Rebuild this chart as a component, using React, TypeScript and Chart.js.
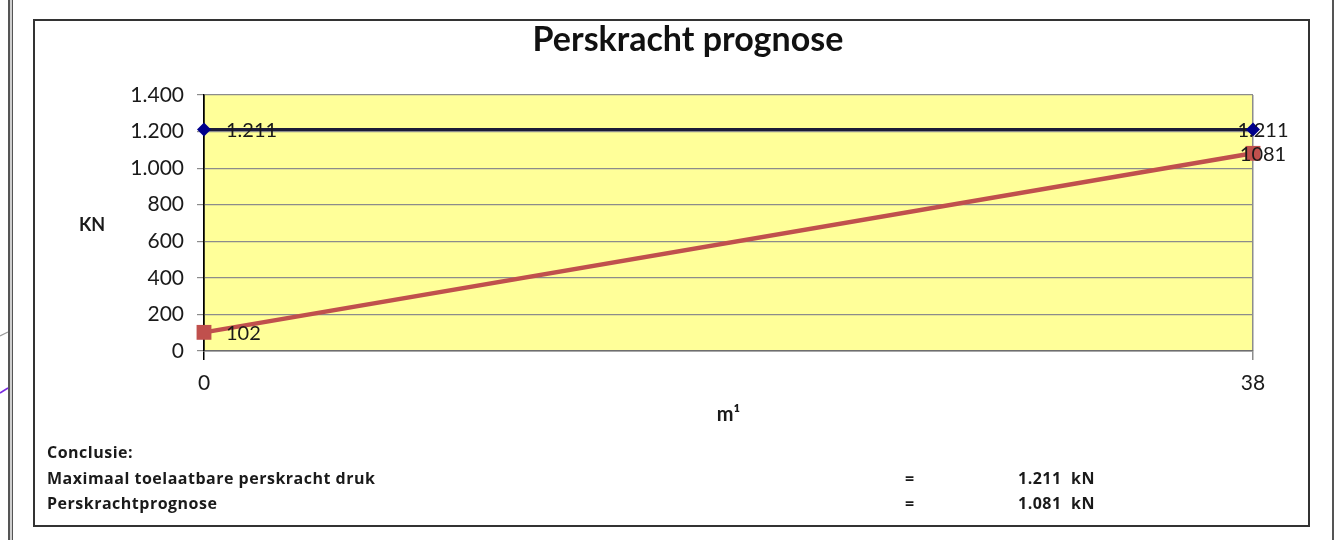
import React, { useEffect, useRef } from "react";
import { Chart, registerables } from "chart.js";

Chart.register(...registerables);

const chartTitle = "Perskracht prognose";
const xValues = [0, 38];
const xTickLabels = ["0", "38"];
const yTickValues = [0, 200, 400, 600, 800, 1000, 1200, 1400];
const yTickLabels = ["0", "200", "400", "600", "800", "1.000", "1.200", "1.400"];
const maxAllowed = [1211, 1211];
const maxAllowedLabels = ["1.211", "1.211"];
const prognosis = [102, 1081];
const prognosisLabels = ["102", "1081"];
const yAxisTitle = "KN";
const xAxisTitle = "m¹";
const conclusionHeader = "Conclusie:";
const conclusionRows = [
  { label: "Maximaal toelaatbare perskracht druk", value: "1.211  kN" },
  { label: "Perskrachtprognose", value: "1.081  kN" },
];

const FONT = "Lato, 'Open Sans', sans-serif";
const TEXT = "#1a1a1a";

const bgPlugin = {
  id: "plotBg",
  beforeDraw(chart: any) {
    const { ctx, chartArea } = chart;
    ctx.save();
    ctx.fillStyle = "#FFFF99";
    ctx.fillRect(chartArea.left, chartArea.top, chartArea.right - chartArea.left, chartArea.bottom - chartArea.top);
    ctx.restore();
  },
};

const labelPlugin = {
  id: "pointLabels",
  afterDatasetsDraw(chart: any) {
    const { ctx } = chart;
    const labelSets = [maxAllowedLabels, prognosisLabels];
    ctx.save();
    ctx.font = `20px ${FONT}`;
    ctx.fillStyle = TEXT;
    ctx.textBaseline = "middle";
    chart.data.datasets.forEach((_ds: any, di: number) => {
      const meta = chart.getDatasetMeta(di);
      meta.data.forEach((pt: any, i: number) => {
        const txt = labelSets[di][i];
        if (i === 0) {
          ctx.textAlign = "left";
          ctx.fillText(txt, pt.x + 22, pt.y + 1);
        } else {
          ctx.textAlign = "center";
          ctx.fillText(txt, pt.x + 10, pt.y + 1);
        }
      });
    });
    // y axis title (horizontal)
    ctx.font = `bold 18px ${FONT}`;
    ctx.textAlign = "center";
    ctx.fillText(yAxisTitle, 92, 225);
    ctx.restore();
  },
};

export default function App() {
  const ref = useRef<HTMLCanvasElement | null>(null);

  useEffect(() => {
    if (!ref.current) return;
    const chart = new Chart(ref.current, {
      type: "line",
      data: {
        datasets: [
          {
            label: "Maximaal toelaatbare perskracht",
            data: xValues.map((x, i) => ({ x, y: maxAllowed[i] })),
            borderColor: "#1c1c38",
            borderWidth: 3,
            pointStyle: "rectRot",
            pointRadius: 7,
            pointBackgroundColor: "#00008B",
            pointBorderColor: "#00008B",
            pointBorderWidth: 0,
            clip: false,
          } as any,
          {
            label: "Perskrachtprognose",
            data: xValues.map((x, i) => ({ x, y: prognosis[i] })),
            borderColor: "#C0504D",
            borderWidth: 4.5,
            pointStyle: "rect",
            pointRadius: 10.5,
            pointBackgroundColor: "#C0504D",
            pointBorderColor: "#C0504D",
            pointBorderWidth: 0,
            clip: false,
          } as any,
        ],
      },
      options: {
        animation: false,
        responsive: false,
        events: [],
        layout: { padding: { left: 123, right: 82, top: 0, bottom: 0 } },
        plugins: {
          legend: { display: false },
          tooltip: { enabled: false },
          title: {
            display: true,
            text: chartTitle,
            color: "#111",
            font: { family: FONT, size: 34, weight: "bold" },
            padding: { top: 19.6, bottom: 34.6 },
          },
        },
        scales: {
          x: {
            type: "linear",
            min: 0,
            max: 38,
            afterBuildTicks(scale: any) {
              scale.ticks = xValues.map((v) => ({ value: v }));
            },
            afterFit(scale: any) {
              scale.height = 189;
            },
            ticks: {
              color: TEXT,
              font: { family: FONT, size: 21 },
              padding: 10.4,
              maxRotation: 0,
              callback: (_v: any, i: number) => xTickLabels[i],
            },
            grid: {
              drawOnChartArea: true,
              drawTicks: true,
              tickLength: 9,
              color: (c: any) => (c.index === 0 ? "#000" : "#8c8c8c"),
              lineWidth: 1.5,
            },
            border: { display: true, color: "#6e6e6e", width: 1.5 },
            title: {
              display: true,
              text: xAxisTitle,
              color: TEXT,
              font: { family: FONT, size: 20, weight: "bold" },
              padding: { top: 0, bottom: 113 },
            },
          },
          y: {
            min: 0,
            max: 1400,
            afterBuildTicks(scale: any) {
              scale.ticks = yTickValues.map((v) => ({ value: v }));
            },
            afterFit(scale: any) {
              scale.width = 81;
            },
            ticks: {
              color: TEXT,
              font: { family: FONT, size: 21 },
              padding: 13,
              callback: (_v: any, i: number) => yTickLabels[i],
            },
            grid: {
              color: "#8c8c8c",
              lineWidth: 1.2,
              drawTicks: true,
              tickLength: 7,
            },
            border: { display: true, color: "#000", width: 1.5 },
          },
        },
      } as any,
      plugins: [bgPlugin, labelPlugin],
    });
    return () => chart.destroy();
  }, []);

  const rowStyle = (top: number): React.CSSProperties => ({
    position: "absolute",
    top,
    left: 47,
    font: `bold 16px 'Open Sans', sans-serif`,
    letterSpacing: "0.5px",
    color: TEXT,
    lineHeight: "20px",
    whiteSpace: "nowrap",
  });

  return (
    <div style={{ position: "absolute", left: 0, top: 0, width: 1335, height: 540, background: "#fff", overflow: "hidden" }}>
      {/* left page edge artefacts */}
      <div style={{ position: "absolute", left: 8, top: 0, width: 2, height: 540, background: "#555" }} />
      <div style={{ position: "absolute", left: 10, top: 0, width: 2, height: 540, background: "#cfcfcf" }} />
      <div style={{ position: "absolute", left: 12, top: 0, width: 1, height: 540, background: "#555" }} />
      <div style={{ position: "absolute", left: 1332, top: 0, width: 2, height: 540, background: "#555" }} />
      <svg style={{ position: "absolute", left: 0, top: 0 }} width={14} height={540}>
        <line x1={0} y1={336} x2={8} y2={332} stroke="#999" strokeWidth={1.2} />
        <line x1={0} y1={393} x2={8} y2={388} stroke="#7a2be0" strokeWidth={1.5} />
      </svg>
      {/* outer chart box */}
      <div
        style={{
          position: "absolute",
          left: 33,
          top: 19,
          width: 1277,
          height: 508,
          border: "2px solid #333",
          boxSizing: "border-box",
        }}
      />
      <canvas ref={ref} width={1335} height={540} style={{ position: "absolute", left: 0, top: 0, width: 1335, height: 540 }} />
      <div style={rowStyle(442)}>{conclusionHeader}</div>
      {conclusionRows.map((r, i) => (
        <React.Fragment key={i}>
          <div style={rowStyle(468 + i * 25)}>{r.label}</div>
          <div style={{ ...rowStyle(468 + i * 25), left: 905 }}>=</div>
          <div style={{ ...rowStyle(468 + i * 25), left: 1018, whiteSpace: "pre" }}>{r.value}</div>
        </React.Fragment>
      ))}
    </div>
  );
}
